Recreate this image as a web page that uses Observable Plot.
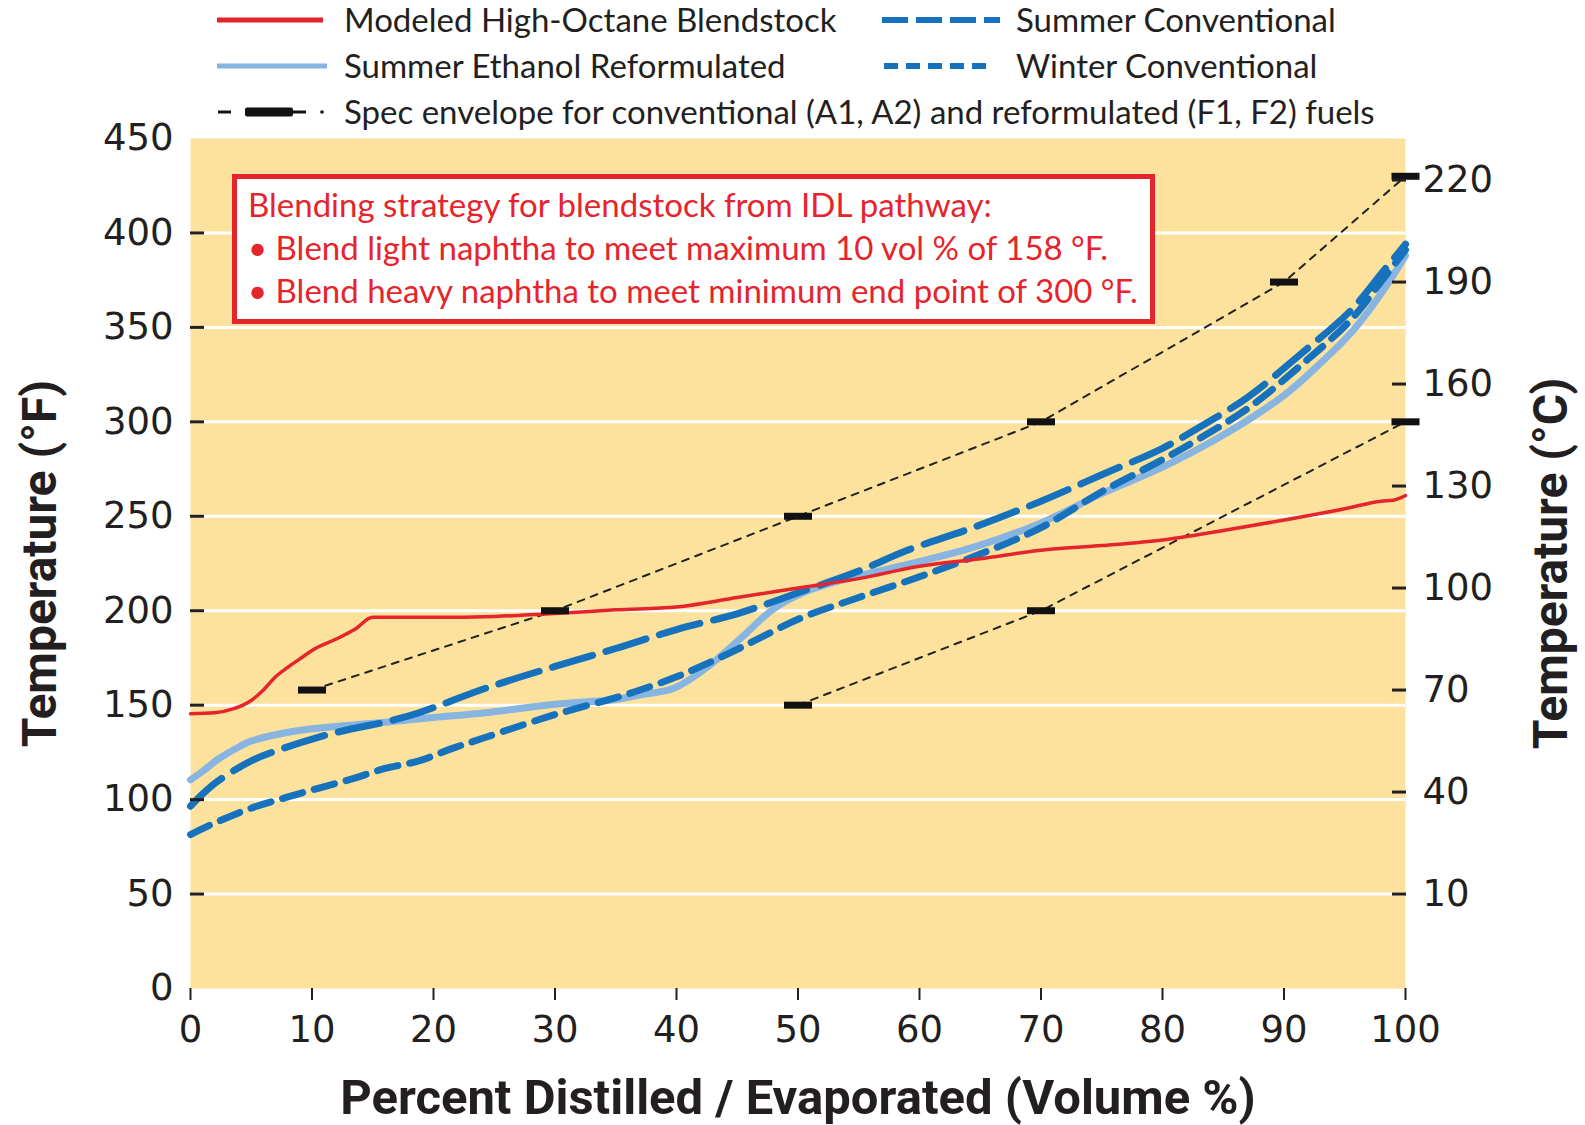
<!DOCTYPE html>
<html><head><meta charset="utf-8">
<script src="https://cdn.jsdelivr.net/npm/d3@7"></script>
<script src="https://cdn.jsdelivr.net/npm/@observablehq/plot@0.6"></script>
<style>
html,body{margin:0;padding:0;background:#fff;}
#wrap{position:relative;width:1585px;height:1125px;overflow:hidden;}
#note{position:absolute;left:232px;top:174px;width:923px;height:150px;box-sizing:border-box;border:5px solid #e5242b;background:#fff;color:#e5242b;font-family:Lato,sans-serif;font-size:33px;line-height:43px;padding:4px 0 0 11px;white-space:nowrap;}
</style></head><body>
<div id="wrap"></div>
<script>
// ---------- data ----------
const xTicks = [0, 10, 20, 30, 40, 50, 60, 70, 80, 90, 100];
const yTicksF = [0, 50, 100, 150, 200, 250, 300, 350, 400, 450];
const yTicksC = [10, 40, 70, 100, 130, 160, 190, 220];

// [percent distilled, temperature °F]
const modeledHighOctane = [[0,145.5],[2,146],[3.5,148],[5,152.5],[6,158],[7,165],[8,170],[9,174.5],[10,179],[12,185],[13.5,190],[15,196.5],[20,196.5],[25,197],[30,198.5],[35,200.5],[40,202],[45,207],[50,212],[55,217],[60,223.5],[65,227.5],[70,232],[75,234.5],[80,237.5],[85,242.5],[90,248],[95,254],[98,258],[99,258.5],[100,261]];
const summerEthanolReformulated = [[0,110.5],[1,115],[2.3,121.5],[4,128],[5,131],[7.5,135],[10,137.5],[16,141],[20,143.5],[24.3,146],[30,150.5],[35,153],[37,155.5],[39.8,159],[42.5,170],[45.3,185.5],[48,201],[50.8,210.5],[53.5,216],[59,224.5],[64.4,233.5],[70,246.5],[75,262],[80,276],[85,293],[90,314],[93,331],[95.5,347],[98,368],[100,388]];
const summerConventional = [[0,96.5],[1,103],[2.3,110],[5,120.5],[7.8,127.5],[10.5,133],[13.3,137.5],[16,141],[18.8,146],[24.3,159],[30,170.5],[35,180],[40,190],[45.3,199],[50,209.5],[55,221],[59,232],[64.4,244],[70,258],[75,272],[80,286],[83,297],[87,313],[91.4,336],[95.5,359],[98.2,380],[100,394]];
const winterConventional = [[0,81.5],[2.3,88.5],[5,95.5],[7.8,101],[10.5,106],[13.3,111],[16,116.5],[18.8,120.5],[21.5,127],[24.3,133],[30,145],[35,154],[37,158],[40,165],[42.5,172],[45.3,180.5],[50.2,196],[55,207],[60,218],[65,230],[70,244],[75,263],[80,280],[83,291],[87,307],[91.4,330],[95.5,354],[98.2,376],[100,391]];
const specUpper = [[10,158],[30,200],[50,250],[70,300],[90,374],[100,430]];
const specLower = [[50,150],[70,200],[100,300]];

const legendLabels = ["Modeled High-Octane Blendstock","Summer Ethanol Reformulated","Summer Conventional","Winter Conventional","Spec envelope for conventional (A1, A2) and reformulated (F1, F2) fuels"];
const noteLines = ["Blending strategy for blendstock from IDL pathway:","• Blend light naphtha to meet maximum 10 vol % of 158 °F.","• Blend heavy naphtha to meet minimum end point of 300 °F."];

// ---------- styles ----------
const RED = "#e5242b", LBLUE = "#87b4e1", DBLUE = "#1672bc", BG = "#fce29d", INK = "#231f20";
const fx = d => d[0], fy = d => d[1];
const cToF = c => c * 9 / 5 + 32;
const fToC = f => Math.round((f - 32) * 5 / 9);
const barSymbol = {draw(ctx) { ctx.rect(-14, -3.5, 28, 7); }};
const gridTicks = yTicksF.filter(v => v > 0 && v < 450);

const wrap = document.getElementById("wrap");

// ---------- legend ----------
const lg = d3.create("svg").attr("width", 1585).attr("height", 125)
  .style("display", "block").style("overflow", "visible");
const g = lg.append("g").attr("font-family", "Lato, sans-serif").attr("font-size", 33).attr("fill", INK);
function seg(x1, x2, y, stroke, w, dash) {
  const l = g.append("line").attr("x1", x1).attr("x2", x2).attr("y1", y).attr("y2", y)
    .attr("stroke", stroke).attr("stroke-width", w);
  if (dash) l.attr("stroke-dasharray", dash);
}
function label(x, y, t) { g.append("text").attr("x", x).attr("y", y).attr("dy", "0.35em").text(t); }
seg(217, 323, 20, RED, 5); label(344, 20, legendLabels[0]);
seg(217, 327, 66, LBLUE, 5); label(344, 66, legendLabels[1]);
seg(882, 1000, 20, DBLUE, 6, "26,8"); label(1016, 20, legendLabels[2]);
seg(884, 994, 66, DBLUE, 6, "14,8"); label(1016, 66, legendLabels[3]);
seg(218, 231, 112, "#111", 3);
g.append("rect").attr("x", 245).attr("y", 107.5).attr("width", 48).attr("height", 9).attr("rx", 2).attr("fill", "#111");
seg(293, 306, 112, "#111", 3);
g.append("circle").attr("cx", 322).attr("cy", 112).attr("r", 1.8).attr("fill", "#111");
label(344, 112, legendLabels[4]);
wrap.appendChild(lg.node());

// ---------- plot ----------
const titleStyle = {rotate: -90, textAnchor: "middle", lineAnchor: "middle", fontSize: 48, fontWeight: "bold", fontFamily: "Roboto, sans-serif", fill: INK};
const chart = Plot.plot({
  width: 1585, height: 1000,
  marginTop: 13, marginBottom: 137, marginLeft: 190, marginRight: 180,
  x: {domain: [0, 100], label: null},
  y: {domain: [0, 450], label: null},
  style: {fontFamily: "'DejaVu Sans', sans-serif", color: INK, background: "transparent", overflow: "visible"},
  marks: [
    Plot.frame({fill: BG, stroke: null}),
    Plot.gridY(gridTicks, {stroke: "#fff", strokeOpacity: 1, strokeWidth: 3}),
    Plot.line(specUpper, {x: fx, y: fy, stroke: "#222", strokeWidth: 2, strokeDasharray: "7,7"}),
    Plot.line(specLower, {x: fx, y: fy, stroke: "#222", strokeWidth: 2, strokeDasharray: "7,7"}),
    Plot.line(summerEthanolReformulated, {x: fx, y: fy, stroke: LBLUE, strokeWidth: 7, curve: "catmull-rom"}),
    Plot.line(winterConventional, {x: fx, y: fy, stroke: DBLUE, strokeWidth: 7, strokeDasharray: "21,12", curve: "catmull-rom"}),
    Plot.line(summerConventional, {x: fx, y: fy, stroke: DBLUE, strokeWidth: 7, strokeDasharray: "42,14", curve: "catmull-rom"}),
    Plot.line(modeledHighOctane, {x: fx, y: fy, stroke: RED, strokeWidth: 3.5, curve: "monotone-x"}),
    Plot.dot(specUpper.concat(specLower), {x: fx, y: fy, symbol: barSymbol, fill: "#111", stroke: null, r: 5}),
    // left axis
    Plot.axisY(yTicksF, {anchor: "left", tickSize: 0, tickPadding: 17, fontSize: 37, label: null}),
    Plot.axisY(gridTicks, {anchor: "left", tickSize: 14, dx: 14, strokeWidth: 3, tickFormat: () => "", label: null}),
    // right axis (°C)
    Plot.axisY(yTicksC.map(cToF), {anchor: "right", tickSize: 0, tickPadding: 17, fontSize: 37, tickFormat: fToC, label: null}),
    Plot.axisY(yTicksC.map(cToF), {anchor: "right", tickSize: 14, dx: -14, strokeWidth: 3, tickFormat: () => "", label: null}),
    // x axis
    Plot.axisX(xTicks, {anchor: "bottom", tickSize: 12, tickPadding: 15, strokeWidth: 2, fontSize: 37, label: null}),
    // titles
    Plot.text(["Temperature (°F)"], {frameAnchor: "left", dx: -150, ...titleStyle}),
    Plot.text(["Temperature (°C)"], {frameAnchor: "right", dx: 146, ...titleStyle}),
    Plot.text(["Percent Distilled / Evaporated (Volume %)"], {frameAnchor: "bottom", dy: 110, textAnchor: "middle", lineAnchor: "middle", fontSize: 49, fontWeight: "bold", fontFamily: "Roboto, sans-serif", fill: INK})
  ]
});
chart.style.display = "block";
wrap.appendChild(chart);

// ---------- annotation box ----------
const note = document.createElement("div");
note.id = "note";
note.innerHTML = noteLines.map(t => `<div>${t}</div>`).join("");
wrap.appendChild(note);
</script>
</body></html>
